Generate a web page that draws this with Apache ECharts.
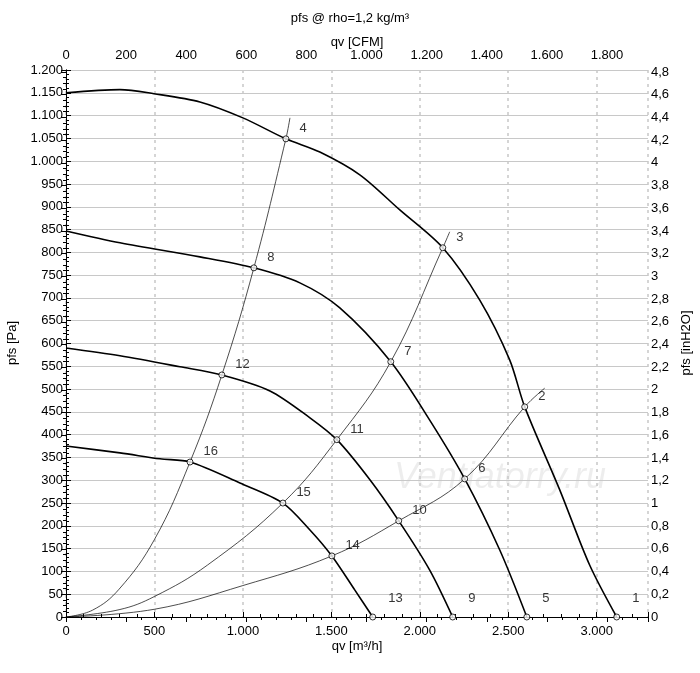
<!DOCTYPE html><html><head><meta charset="utf-8"><script src="https://cdn.jsdelivr.net/npm/echarts@6/dist/echarts.min.js"></script></head><body style="margin:0"><div id="c" style="width:700px;height:673px"></div><script>
const fan1=[[0,1150],[305,1157],[497,1148],[757,1130],[1000,1095],[1243,1049],[1435,1020],[1661,970],[1887,893],[2130,810],[2339,695],[2508,564],[2593,461],[2791,279],[2960,114],[3113,0]];
const fan2=[[0,847],[305,821],[757,790],[1062,766],[1322,733],[1548,678],[1836,560],[2056,432],[2254,303],[2452,147],[2605,0]];
const fan3=[[0,590],[305,573],[644,549],[881,531],[1153,496],[1379,437],[1531,389],[1718,301],[1881,211],[2056,103],[2186,0]];
const fan4=[[0,375],[305,360],[531,347],[701,340],[983,294],[1226,250],[1379,191],[1503,134],[1633,59],[1734,0]];
const sysA=[[0,0],[150,15],[300,61],[500,170],[701,340],[881,531],[1062,766],[1243,1049],[1266,1095]];
const sysB=[[0,0],[300,16],[500,45],[800,114],[1226,250],[1531,389],[1836,560],[2130,810],[2169,845]];
const sysC=[[0,0],[500,17],[1000,69],[1503,134],[1881,211],[2254,303],[2593,461],[2706,502]];
const pts=[[3113,0,'1'],[2593,461,'2'],[2130,810,'3'],[1243,1049,'4'],[2605,0,'5'],[2254,303,'6'],[1836,560,'7'],[1062,766,'8'],[2186,0,'9'],[1881,211,'10'],[1531,389,'11'],[881,531,'12'],[1734,0,'13'],[1503,134,'14'],[1226,250,'15'],[701,340,'16']];
const XMAX=3290, PA_PER_INH2O=249.09, M3H_PER_CFM=1.699;
const F='Liberation Sans, Arial, sans-serif';
const fmtK=v=>{const s=String(Math.round(v));return s.length>3?s.slice(0,-3)+'.'+s.slice(-3):s;};
const ch=echarts.init(document.getElementById('c'));
const line=(d,w,s)=>({type:'line',data:d,smooth:s,symbol:'none',lineStyle:{color:'#000',width:w},xAxisIndex:0,yAxisIndex:0,silent:true});
ch.setOption({animation:false,
grid:{left:66,right:52,top:70,bottom:56},
graphic:[
{type:'text',left:'center',top:12,style:{text:'pfs @ rho=1,2 kg/m³',font:'13px '+F,fill:'#000'}},
{type:'text',x:357,y:36,style:{text:'qv [CFM]',font:'13px '+F,fill:'#000',align:'center'}},
{type:'text',x:357,y:640,style:{text:'qv [m³/h]',font:'13px '+F,fill:'#000',align:'center'}},
{type:'text',x:12,y:343,rotation:Math.PI/2,style:{text:'pfs [Pa]',font:'13px '+F,fill:'#000',align:'center',verticalAlign:'middle'}},
{type:'text',x:686,y:343,rotation:Math.PI/2,style:{text:'pfs [inH2O]',font:'13px '+F,fill:'#000',align:'center',verticalAlign:'middle'}},
{type:'text',x:500,y:478,z:0,style:{text:'Ventiatorry.ru',font:'italic 36px '+F,fill:'rgba(0,0,0,0.07)',align:'center',verticalAlign:'middle'}}
],
xAxis:[
{type:'value',min:0,max:XMAX,interval:500,position:'bottom',axisLine:{lineStyle:{color:'#000'}},axisTick:{inside:true,length:5,lineStyle:{color:'#000'}},minorTick:{show:true,splitNumber:5,length:3,lineStyle:{color:'#000'}},splitLine:{show:true,lineStyle:{color:'#c8c8c8',type:[3,4],width:1.5}},axisLabel:{color:'#000',fontFamily:F,fontSize:13,formatter:v=>fmtK(v),showMaxLabel:false}},
{type:'value',min:0,max:XMAX/M3H_PER_CFM,interval:200,position:'top',axisLine:{lineStyle:{color:'#000'}},axisTick:{inside:true,length:5,lineStyle:{color:'#000'}},minorTick:{show:true,splitNumber:4,length:3,lineStyle:{color:'#000'}},splitLine:{show:false},axisLabel:{color:'#000',fontFamily:F,fontSize:13,formatter:v=>fmtK(v),showMaxLabel:false}}
],
yAxis:[
{type:'value',min:0,max:1200,interval:50,axisLine:{show:true,lineStyle:{color:'#000'}},axisTick:{show:true,inside:true,length:5,lineStyle:{color:'#000'}},minorTick:{show:true,splitNumber:5,length:3,lineStyle:{color:'#000'}},splitLine:{lineStyle:{color:'#c8c8c8'}},axisLabel:{color:'#000',fontFamily:F,fontSize:13,margin:3,formatter:v=>fmtK(v)}},
{type:'value',min:0,max:1200/PA_PER_INH2O,interval:0.2,position:'right',axisLine:{show:true,lineStyle:{color:'#000'}},axisTick:{show:true,inside:true,length:5,lineStyle:{color:'#000'}},minorTick:{show:true,splitNumber:4,length:3,lineStyle:{color:'#000'}},splitLine:{show:false},axisLabel:{color:'#000',fontFamily:F,fontSize:13,margin:3,showMaxLabel:false,formatter:v=>String(Math.round(v*10)/10).replace('.',',')}}
],
series:[line(fan1,1.6,0.3),line(fan2,1.6,0.3),line(fan3,1.6,0.3),line(fan4,1.6,0.3),line(sysA,0.7,0.4),line(sysB,0.7,0.4),line(sysC,0.7,0.4),
{type:'scatter',data:pts.map(p=>({value:[p[0],p[1]],name:p[2],label:{offset:p[1]===0?[8,-12]:[6,-4]}})),symbol:'circle',symbolSize:6,itemStyle:{color:'#fff',borderColor:'#000',borderWidth:1},z:5,
label:{show:true,position:'right',formatter:p=>p.name,color:'#000',fontFamily:F,fontSize:13,distance:4,verticalAlign:'bottom'}}
]});
</script></body></html>
